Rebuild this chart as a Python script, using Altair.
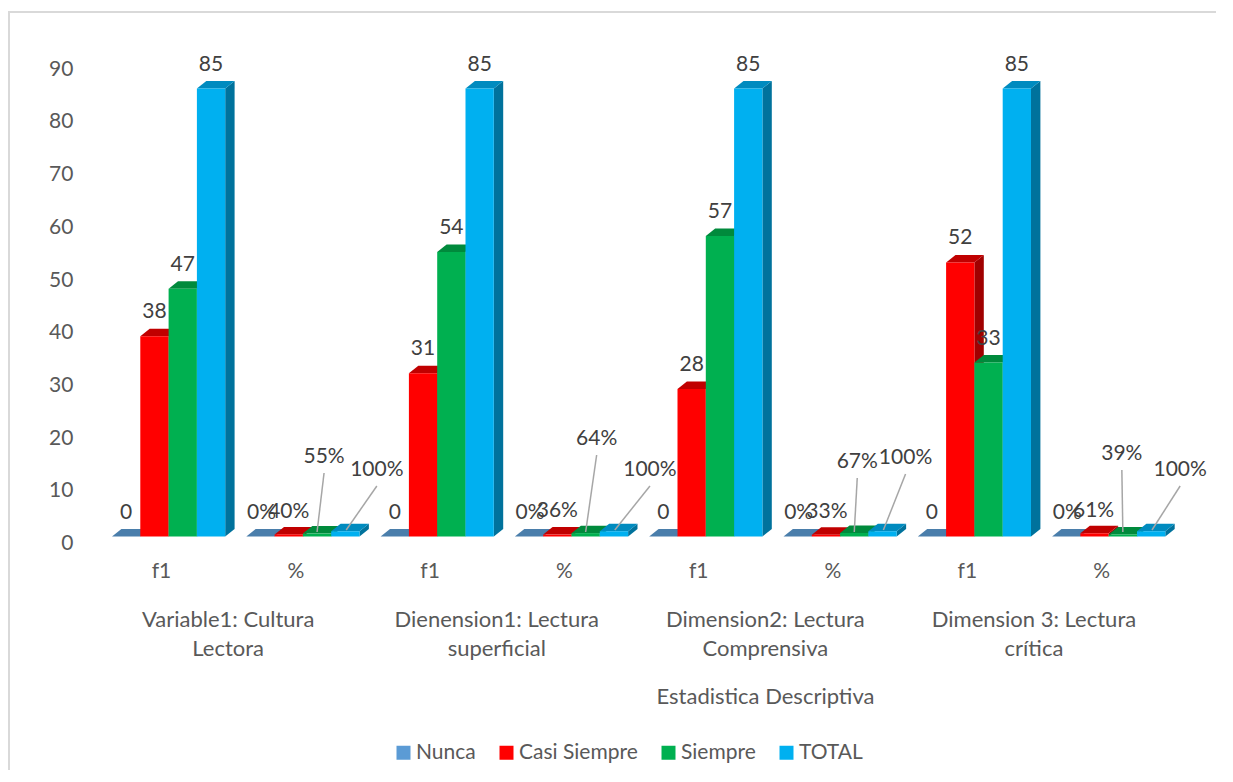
import altair as alt
import pandas as pd

series = ["Nunca", "Casi Siempre", "Siempre", "TOTAL"]
front_colors = ["#5B9BD5", "#FF0000", "#00B050", "#00B0F0"]
top_colors = ["#4A7EAB", "#C00000", "#008A3C", "#008BBF"]
side_colors = ["#3C6A93", "#A00000", "#00723A", "#00729C"]

f1_values = {
    "Nunca": [0, 0, 0, 0],
    "Casi Siempre": [38, 31, 28, 52],
    "Siempre": [47, 54, 57, 33],
    "TOTAL": [85, 85, 85, 85],
}
pct_values = {
    "Nunca": [0.0, 0.0, 0.0, 0.0],
    "Casi Siempre": [0.40, 0.36, 0.33, 0.61],
    "Siempre": [0.55, 0.64, 0.67, 0.39],
    "TOTAL": [1.0, 1.0, 1.0, 1.0],
}
group_names = [
    ["Variable1: Cultura", "Lectora"],
    ["Dienension1: Lectura", "superficial"],
    ["Dimension2: Lectura", "Comprensiva"],
    ["Dimension 3: Lectura", "crítica"],
]
axis_title = "Estadistica Descriptiva"

# layout constants
BAR_PX = 28.3
PX_PER_VALUE = 5.27
STEP = 134.3 / BAR_PX
START = 18.15 / BAR_PX
DX = 9.4 / BAR_PX
DY = 7.5 / PX_PER_VALUE
WIDTH = 134.3 * 8
HEIGHT = PX_PER_VALUE * 95
PLOT_LEFT = 93.85
PLOT_BOTTOM = 536.5
PLOT_TOP = PLOT_BOTTOM - HEIGHT
LABEL_NUDGE = 1.5

# hand-placed percent labels: horizontal shift (px) and centre height above baseline (px)
pct_shift_x = {
    "Nunca": [1, 1, 1, 1],
    "Casi Siempre": [0, 0, 1, -1],
    "Siempre": [7, 11, 3, -1],
    "TOTAL": [31.5, 36, 23, 29],
}
pct_lift_y = {
    "Nunca": [25.5, 25.5, 25.5, 25.5],
    "Casi Siempre": [26.5, 27.5, 26.5, 27.5],
    "Siempre": [81.5, 99.5, 76.5, 84.5],
    "TOTAL": [68.5, 68.5, 80.5, 68.5],
}

fronts, sides, tops, labels, leaders = [], [], [], [], []
for s_i, s in enumerate(series):
    for panel in range(8):
        g = panel // 2
        is_pct = panel % 2 == 1
        v = pct_values[s][g] if is_pct else f1_values[s][g]
        left = panel * STEP + START + s_i
        right = left + 1
        key = f"{s}-{panel}"
        fronts.append(dict(serie=s, x=left, x2=right, y=0, y2=v))
        sides.append(dict(serie=s, bar=key, x=right, y=0, y2=v))
        sides.append(dict(serie=s, bar=key, x=right + DX, y=DY, y2=v + DY))
        for xx, lo, hi in [
            (left, v, v),
            (left + DX, v, v + DY),
            (right, v, v + DY),
            (right + DX, v + DY, v + DY),
        ]:
            tops.append(dict(serie=s, bar=key, x=xx, y=lo, y2=hi))
        cx = left + 0.5
        if is_pct:
            lx = cx + pct_shift_x[s][g] / BAR_PX
            ly = pct_lift_y[s][g] / PX_PER_VALUE
            labels.append(dict(x=lx, y=ly - LABEL_NUDGE / PX_PER_VALUE, t=f"{round(v * 100)}%"))
            if s in ("Siempre", "TOTAL"):
                leaders.append(dict(
                    x=lx, x2=cx + (0 if s == "Siempre" else 0.03),
                    y=ly - 18 / PX_PER_VALUE,
                    y2=(4.5 if s == "Siempre" else 6.5) / PX_PER_VALUE,
                ))
        else:
            labels.append(dict(x=cx, y=v + (25.5 - LABEL_NUDGE) / PX_PER_VALUE, t=f"{v}"))

group_rows = []
for g, lines in enumerate(group_names):
    for i, line in enumerate(lines):
        group_rows.append(dict(x=(2 * g + 1) * STEP, line=i, t=line))

FONT = "Lato"
TXT = "#404040"
AX = "#595959"
TEXT_SIZE = 22
NUM_SIZE = 21

x_scale = alt.Scale(domain=[0, 8 * STEP], nice=False, zero=False)
y_scale = alt.Scale(domain=[0, 95], nice=False)

axis_x = alt.Axis(
    values=[(p + 0.5) * STEP for p in range(8)],
    labelExpr=f"round(datum.value / {STEP} - 0.5) % 2 == 0 ? 'f1' : '%'",
    domain=False, ticks=False, grid=False, labelPadding=35,
    labelFont=FONT, labelFontSize=NUM_SIZE, labelColor=AX, labelBaseline="middle",
    labelFlush=False, labelOverlap=False,
    title=axis_title, titleFont=FONT, titleFontSize=TEXT_SIZE, titleColor=AX,
    titleFontWeight="normal", titleX=765 - PLOT_LEFT, titleY=696 - PLOT_BOTTOM,
    titleBaseline="middle", titleAlign="center",
)
axis_y = alt.Axis(
    values=list(range(0, 100, 10)),
    domain=False, ticks=False, grid=False, labelPadding=21,
    labelFont=FONT, labelFontSize=NUM_SIZE, labelColor=AX, labelOffset=7,
    labelBaseline="middle", labelFlush=False, labelOverlap=False, title=None,
)
X = alt.X("x:Q", scale=x_scale, axis=axis_x)
Y = alt.Y("y:Q", scale=y_scale, axis=axis_y)

frame_top = alt.Chart(pd.DataFrame([{"a": 1}])).mark_rule(
    color="#D9D9D9", strokeWidth=2
).encode(x=alt.value(8 - PLOT_LEFT), x2=alt.value(1233 - PLOT_LEFT), y=alt.value(12 - PLOT_TOP))
frame_left = alt.Chart(pd.DataFrame([{"a": 1}])).mark_rule(
    color="#D9D9D9", strokeWidth=2
).encode(x=alt.value(9 - PLOT_LEFT), y=alt.value(12 - PLOT_TOP), y2=alt.value(782 - PLOT_TOP))

layers = [frame_top, frame_left]
df_f, df_s, df_t = pd.DataFrame(fronts), pd.DataFrame(sides), pd.DataFrame(tops)
for i, s in enumerate(series):
    layers.append(
        alt.Chart(df_s[df_s.serie == s]).mark_area(color=side_colors[i]).encode(
            x=X, y=Y, y2="y2:Q", detail="bar:N"
        )
    )
    layers.append(
        alt.Chart(df_t[df_t.serie == s]).mark_area(color=top_colors[i]).encode(
            x=X, y=Y, y2="y2:Q", detail="bar:N"
        )
    )
    layers.append(
        alt.Chart(df_f[df_f.serie == s]).mark_rect().encode(
            x=X, x2="x2:Q", y=Y, y2="y2:Q",
            color=alt.Color(
                "serie:N",
                scale=alt.Scale(domain=series, range=front_colors),
                legend=alt.Legend(
                    orient="none", legendX=393 - PLOT_LEFT, legendY=742 - PLOT_TOP,
                    direction="horizontal", columns=4, title=None,
                    symbolType="square", symbolSize=196, symbolStrokeWidth=0,
                    symbolOpacity=1,
                    labelFont=FONT, labelFontSize=21, labelColor=AX, labelOffset=2,
                    columnPadding=20, labelLimit=300,
                ),
            ),
        )
    )

leader_layer = alt.Chart(pd.DataFrame(leaders)).mark_rule(
    color="#A6A6A6", strokeWidth=1.5
).encode(x=X, x2="x2:Q", y=Y, y2="y2:Q")

label_layer = alt.Chart(pd.DataFrame(labels)).mark_text(
    font=FONT, fontSize=NUM_SIZE, color=TXT, baseline="middle", align="center"
).encode(x=X, y=Y, text="t:N")

df_g = pd.DataFrame(group_rows)
group_layers = [
    alt.Chart(df_g[df_g.line == i]).mark_text(
        font=FONT, fontSize=TEXT_SIZE, color=AX, baseline="middle", align="center"
    ).encode(x=X, y=alt.value(py - PLOT_TOP), text="t:N")
    for i, py in enumerate([620, 649])
]

chart = alt.layer(*layers, leader_layer, label_layer, *group_layers).properties(
    width=WIDTH, height=HEIGHT,
    padding={"left": PLOT_LEFT - 8, "top": PLOT_TOP - 8, "right": 48, "bottom": 233},
    autosize=alt.AutoSizeParams(type="none"),
    background="white",
).configure_view(stroke=None)

chart.save("out.html", embed_options={"renderer": "svg", "actions": False})
